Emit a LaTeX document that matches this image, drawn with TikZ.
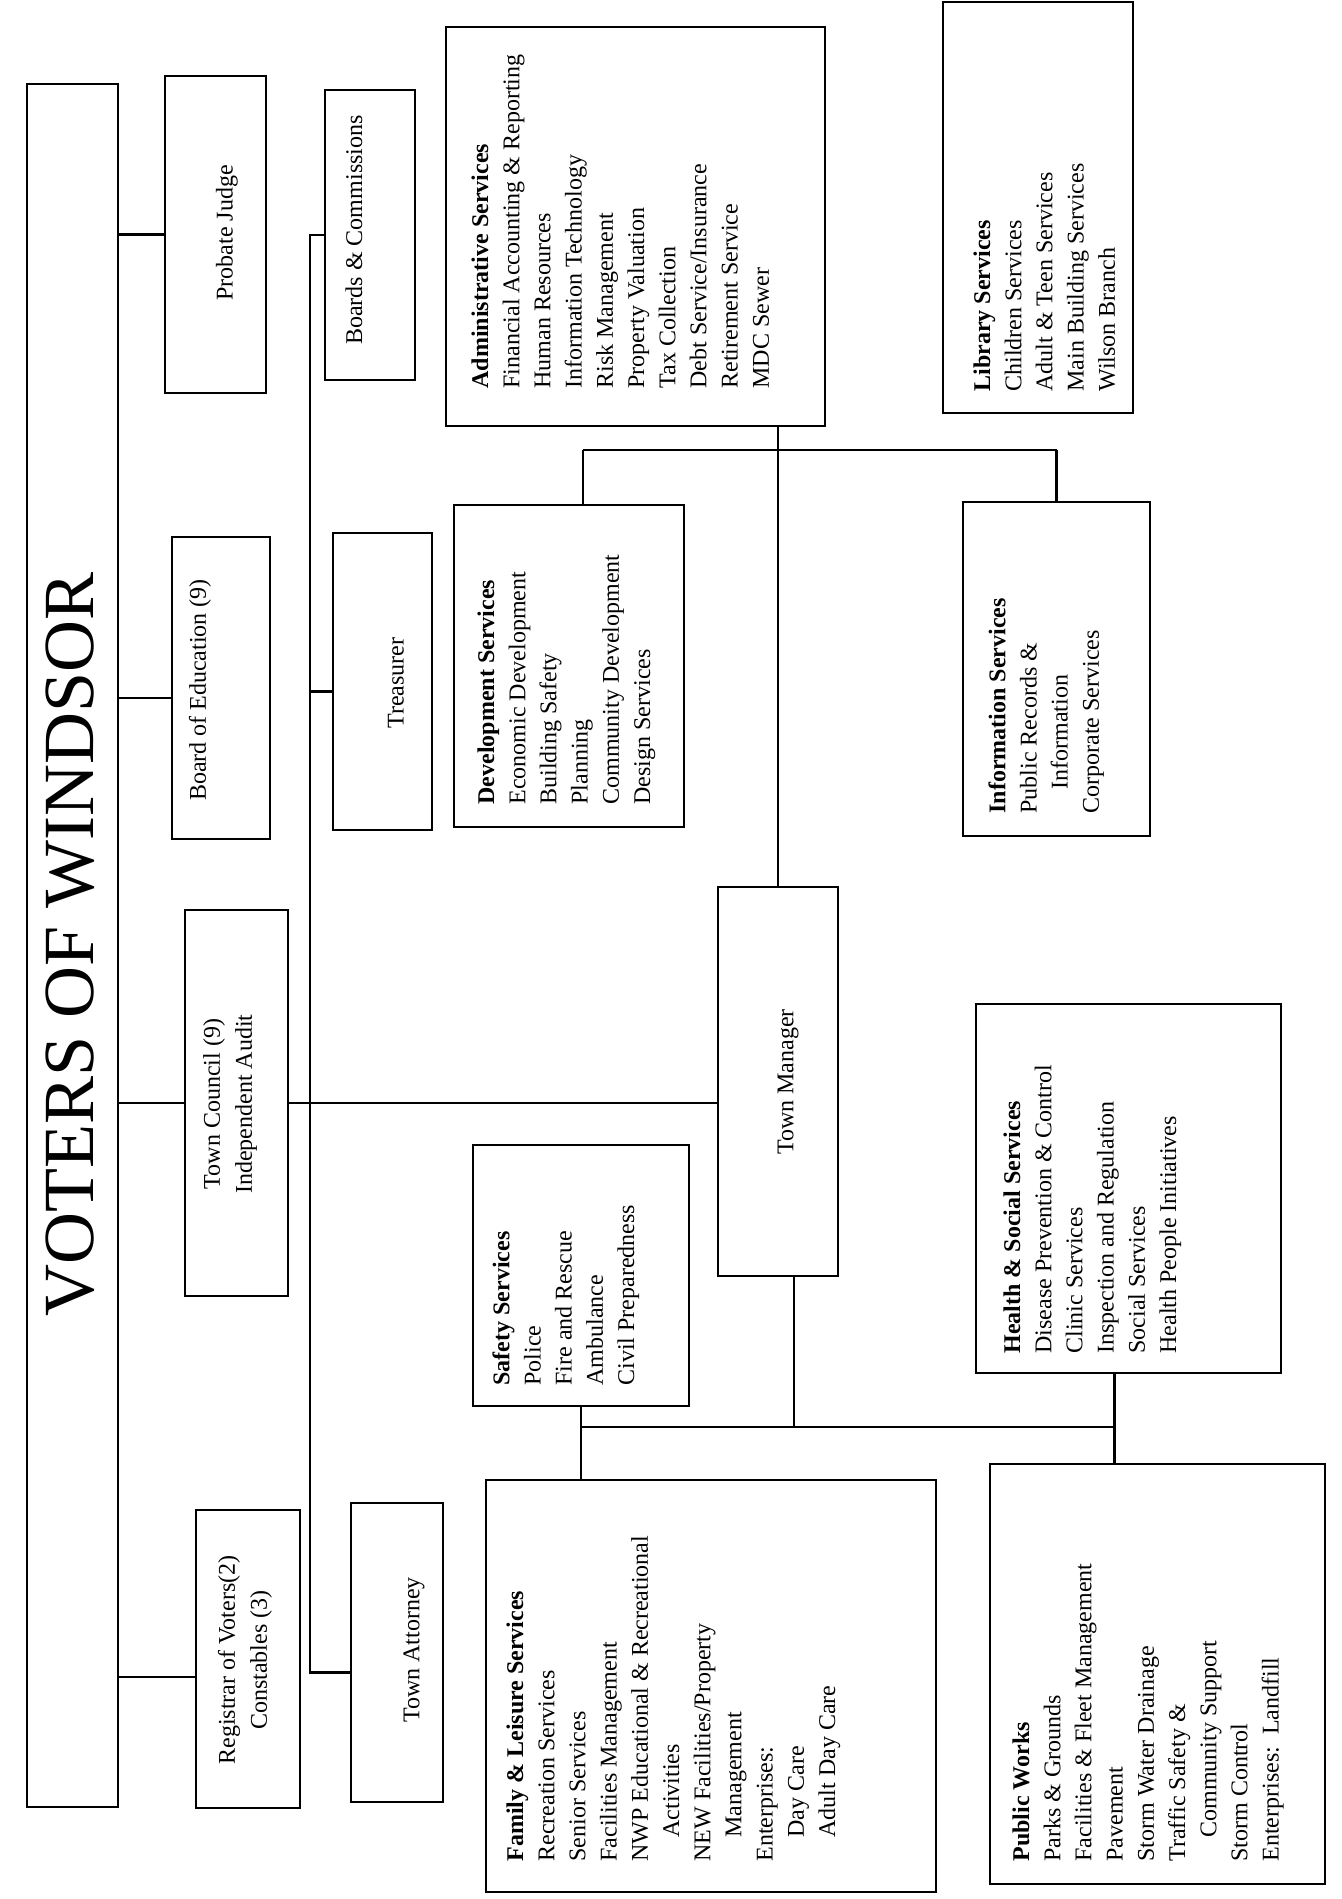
\documentclass[tikz,border=0pt]{standalone}
\usepackage{fontspec}
\setmainfont{Liberation Serif}
\usetikzlibrary{fit}
\begin{document}
\begin{tikzpicture}[x=0.5pt, y=-0.5pt, line width=1.4pt,
    orgbox/.style={draw, rectangle, inner sep=0pt},
    officetext/.style={rotate=90, align=center, inner sep=0pt,
      font=\fontsize{12}{16}\selectfont},
    unittext/.style={rotate=90, anchor=north west, align=left, inner sep=0pt,
      font=\fontsize{12}{15.6}\selectfont}]
    \useasboundingbox (0,0) rectangle (1341,1899);

    % voters and the offices they elect
    \node[orgbox, fit={(27,84) (118,1807)}] (voters) {};
    \node[rotate=90, inner sep=0pt, font=\fontsize{36}{40}\selectfont] (voterstext) at (70,944) {VOTERS OF WINDSOR};

    \node[orgbox, fit={(165,76) (266,393)}] (probate) {};
    \node[officetext] (probatetext) at (227,233) {Probate Judge};
    \node[orgbox, fit={(172,537) (270,839)}] (boarded) {};
    \node[officetext] (boardedtext) at (200,690) {Board of Education (9)};
    \node[orgbox, fit={(185,910) (288,1296)}] (council) {};
    \node[officetext] (counciltext) at (230,1104) {Town Council (9)\\Independent Audit};
    \node[orgbox, fit={(196,1510) (300,1808)}] (registrar) {};
    \node[officetext] (registrartext) at (245,1660) {Registrar of Voters(2)\\Constables (3)};

    % appointed by the council
    \node[orgbox, fit={(325,90) (415,380)}] (boards) {};
    \node[officetext] (boardstext) at (354,230) {Boards \& Commissions};
    \node[orgbox, fit={(333,533) (432,830)}] (treasurer) {};
    \node[officetext] (treasurertext) at (396,683) {Treasurer};
    \node[orgbox, fit={(351,1503) (443,1802)}] (attorney) {};
    \node[officetext] (attorneytext) at (414,1650) {Town Attorney};
    \node[orgbox, fit={(718,887) (838,1276)}] (manager) {};
    \node[officetext] (managertext) at (788,1082) {Town Manager};

    % service departments
    \node[orgbox, fit={(446,27) (825,426)}] (admin) {};
    \node[unittext] (admintext) at (470,390) {\textbf{Administrative Services}\\
      Financial Accounting \& Reporting\\ Human Resources\\ Information Technology\\
      Risk Management\\ Property Valuation\\ Tax Collection\\ Debt Service/Insurance\\
      Retirement Service\\ MDC Sewer};
    \node[orgbox, fit={(943,2) (1133,413)}] (library) {};
    \node[unittext] (librarytext) at (972,393) {\textbf{Library Services}\\
      Children Services\\ Adult \& Teen Services\\ Main Building Services\\ Wilson Branch};
    \node[orgbox, fit={(454,505) (684,827)}] (dev) {};
    \node[unittext] (devtext) at (476,806) {\textbf{Development Services}\\
      Economic Development\\ Building Safety\\ Planning\\ Community Development\\ Design Services};
    \node[orgbox, fit={(963,502) (1150,836)}] (info) {};
    \node[unittext] (infotext) at (987,815) {\textbf{Information Services}\\
      Public Records \&\\ \hspace*{1em}Information\\ Corporate Services};
    \node[orgbox, fit={(473,1145) (689,1406)}] (safety) {};
    \node[unittext] (safetytext) at (491,1387) {\textbf{Safety Services}\\
      Police\\ Fire and Rescue\\ Ambulance\\ Civil Preparedness};
    \node[orgbox, fit={(976,1004) (1281,1373)}] (health) {};
    \node[unittext] (healthtext) at (1002,1355) {\textbf{Health \& Social Services}\\
      Disease Prevention \& Control\\ Clinic Services\\ Inspection and Regulation\\
      Social Services\\ Health People Initiatives};
    \node[orgbox, fit={(486,1480) (936,1892)}] (family) {};
    \node[unittext] (familytext) at (505,1863) {\textbf{Family \& Leisure Services}\\
      Recreation Services\\ Senior Services\\ Facilities Management\\
      NWP Educational \& Recreational\\ \hspace*{1em}Activities\\ NEW Facilities/Property\\
      \hspace*{1em}Management\\ Enterprises:\\ \hspace*{1em}Day Care\\ \hspace*{1em}Adult Day Care};
    \node[orgbox, fit={(990,1464) (1325,1884)}] (works) {};
    \node[unittext] (workstext) at (1011,1863) {\textbf{Public Works}\\
      Parks \& Grounds\\ Facilities \& Fleet Management\\ Pavement\\ Storm Water Drainage\\
      Traffic Safety \&\\ \hspace*{1em}Community Support\\ Storm Control\\ Enterprises:\ \ Landfill};

    % connectors
    \coordinate (spine) at (310,0);
    \coordinate (topbus) at (0,450);
    \coordinate (lowbus) at (0,1427);
    \draw (probate.west) -- (probate.west -| voters.east);
    \draw ([yshift=-5pt]boarded.west) -- ([yshift=-5pt]boarded.west -| voters.east);
    \draw (council.west) -- (council.west -| voters.east);
    \draw ([yshift=-9pt]registrar.west) -- ([yshift=-9pt]registrar.west -| voters.east);
    \draw (council.east) -- (council.east -| manager.west);
    \draw (boards.west) -- (boards.west -| spine) -- ([yshift=-10pt]attorney.west -| spine)
      -- ([yshift=-10pt]attorney.west);
    \draw ([yshift=-5pt]treasurer.west) -- ([yshift=-5pt]treasurer.west -| spine);
    \draw (admin.south -| manager.north) -- (manager.north);
    \draw ([xshift=7pt]dev.north |- topbus) -- (info.north |- topbus);
    \draw ([xshift=7pt]dev.north) -- ([xshift=7pt]dev.north |- topbus);
    \draw (info.north) -- (info.north |- topbus);
    \draw ([xshift=8pt]manager.south) -- ([xshift=8pt]manager.south |- lowbus);
    \draw (safety.south |- lowbus) -- ([xshift=-7pt]health.south |- lowbus);
    \draw (safety.south) -- (safety.south |- family.north);
    \draw ([xshift=-7pt]health.south) -- ([xshift=-7pt]health.south |- works.north);
\end{tikzpicture}
\end{document}
